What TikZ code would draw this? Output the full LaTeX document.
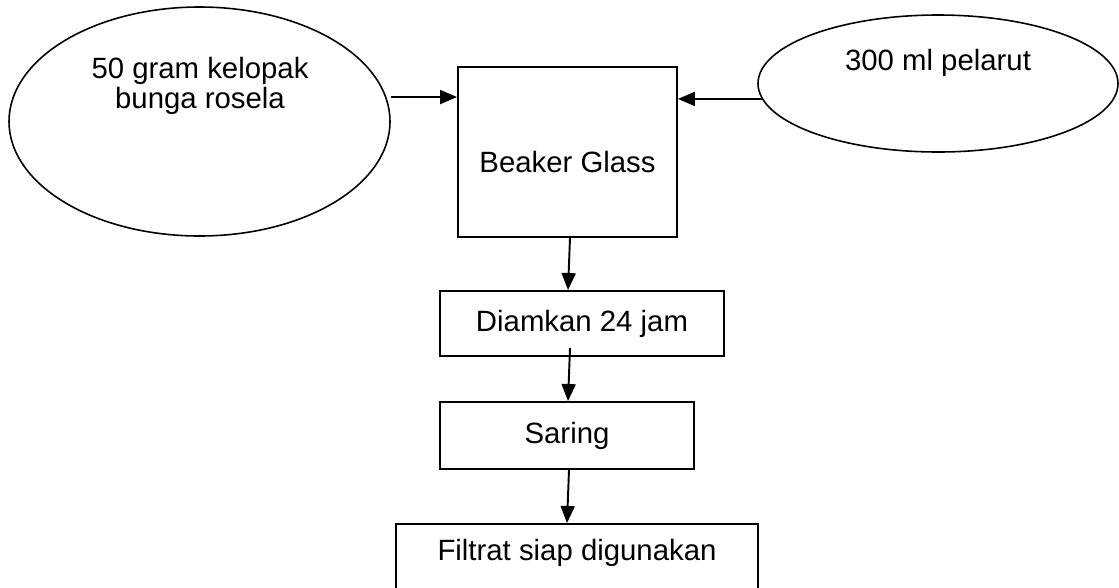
\documentclass[tikz,border=0pt]{standalone}
\usepackage{fontspec}
\setmainfont{Liberation Sans}
\usetikzlibrary{arrows.meta,shapes.geometric}

\begin{document}
\begin{tikzpicture}[line width=1.1pt,font=\fontsize{16.7}{17}\selectfont,
  box/.style={draw,rectangle,inner sep=0pt},
  oval/.style={draw,ellipse,inner sep=0pt,line width=.9pt},
  arr/.style={-{Triangle[length=.34cm,width=.28cm]}}]
\clip (0,0) rectangle (22.38,-11.74);
\node[oval,minimum width=7.62cm,minimum height=4.58cm] (rose) at (3.99,-2.43) {};
\node[oval,minimum width=7.2cm,minimum height=2.74cm] (solvent) at (18.76,-1.67) {};
\node[box,minimum width=4.38cm,minimum height=3.4cm] (beaker) at (11.35,-3.04) {};
\node[box,minimum width=5.68cm,minimum height=1.3cm] (diam) at (11.64,-6.47) {Diamkan 24 jam};
\node[box,minimum width=5.08cm,minimum height=1.34cm] (saring) at (11.34,-8.71) {Saring};
\node[box,anchor=north,minimum width=7.24cm,minimum height=1.6cm] (filtrat) at (11.54,-10.46) {};
\node[align=center] (roseTxt) at (4.0,-1.72) {50 gram kelopak\\bunga rosela};
\node (solventTxt) at (18.76,-1.26) {300 ml pelarut};
\node (beakerTxt) at (11.35,-3.24) {Beaker Glass};
\node (filtratTxt) at (11.54,-11.06) {Filtrat siap digunakan};
\coordinate (in1) at ([yshift=-.62cm]beaker.north west);
\draw[arr] (rose.east |- in1) -- (in1);
\draw[arr] (solvent.185) -- (beaker.east |- solvent.185);
\draw[arr] ([xshift=.05cm]beaker.south) -- ([xshift=-.28cm]diam.north);
\draw[arr] ([xshift=-.24cm,yshift=.18cm]diam.south) -- ([xshift=.02cm]saring.north);
\draw[arr] ([xshift=.04cm]saring.south) -- ([xshift=-.2cm]filtrat.north);
\end{tikzpicture}
\end{document}
